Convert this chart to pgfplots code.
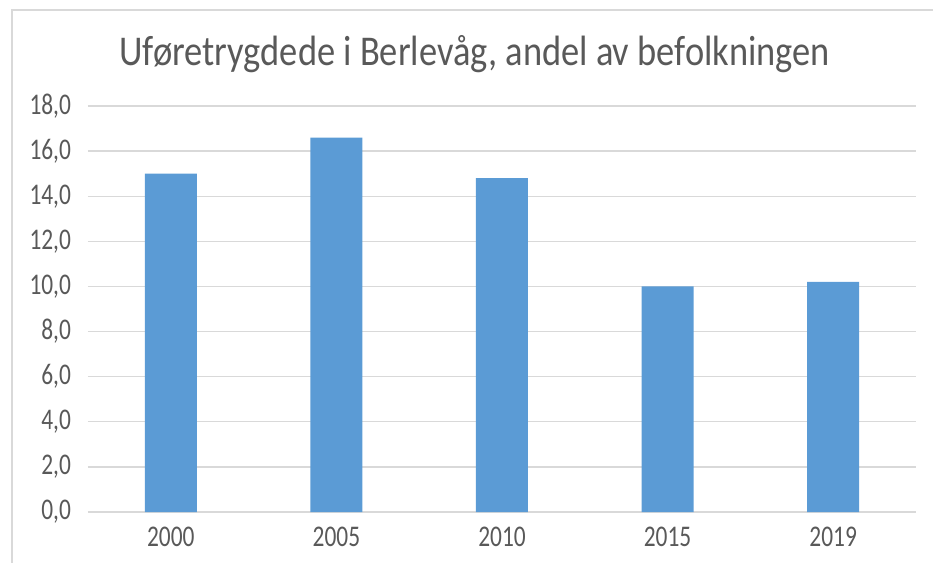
\documentclass[border=0pt]{standalone}
\usepackage{fontspec}
\setmainfont[FakeStretch=0.78]{Carlito}
\newfontfamily\titlefont[FakeStretch=0.86]{Carlito}
\usepackage{pgfplots}
\pgfplotsset{compat=1.18}
\definecolor{barblue}{HTML}{5B9BD5}
\definecolor{gridgray}{HTML}{D9D9D9}
\definecolor{txtgray}{HTML}{595959}
\definecolor{framegray}{HTML}{D9D9D9}

\begin{document}
\begin{tikzpicture}[x=0.5pt, y=-0.5pt]
% chart frame (left and top edges visible)
\draw[framegray, line width=0.6pt] (12,563) -- (12,10) -- (933,10);
\begin{axis}[
    at={(44pt,-256pt)}, anchor=south west,
    scale only axis,
    width=414pt, height=203pt,
    ybar, bar width=26pt,
    xmin=-0.5, xmax=4.5,
    ymin=0, ymax=18,
    xtick=data,
    xticklabels={2000,2005,2010,2015,2019},
    ytick={0,2,...,18},
    ymajorgrids,
    grid style={gridgray, line width=0.7pt},
    axis line style={draw=none},
    major tick length=0pt,
    tick label style={font=\fontsize{15}{18}\selectfont, text=txtgray},
    xticklabel style={yshift=-4pt},
    yticklabel style={xshift=-5pt},
    /pgf/number format/.cd, use comma, fixed, fixed zerofill, precision=1, assume math mode=true,
    /pgfplots/.cd,
    title={Uføretrygdede i Berlevåg, andel av befolkningen},
    title style={at={(0.467,1.069)}, anchor=base,
        font=\titlefont\fontsize{21.2}{25}\selectfont, text=txtgray},
]
\addplot[fill=barblue, draw=none] coordinates {
    (0, 15.0)
    (1, 16.6)
    (2, 14.8)
    (3, 10.0)
    (4, 10.2)
};
\end{axis}
\pgfresetboundingbox
\useasboundingbox (0,0) rectangle (933,563);
\end{tikzpicture}
\end{document}
